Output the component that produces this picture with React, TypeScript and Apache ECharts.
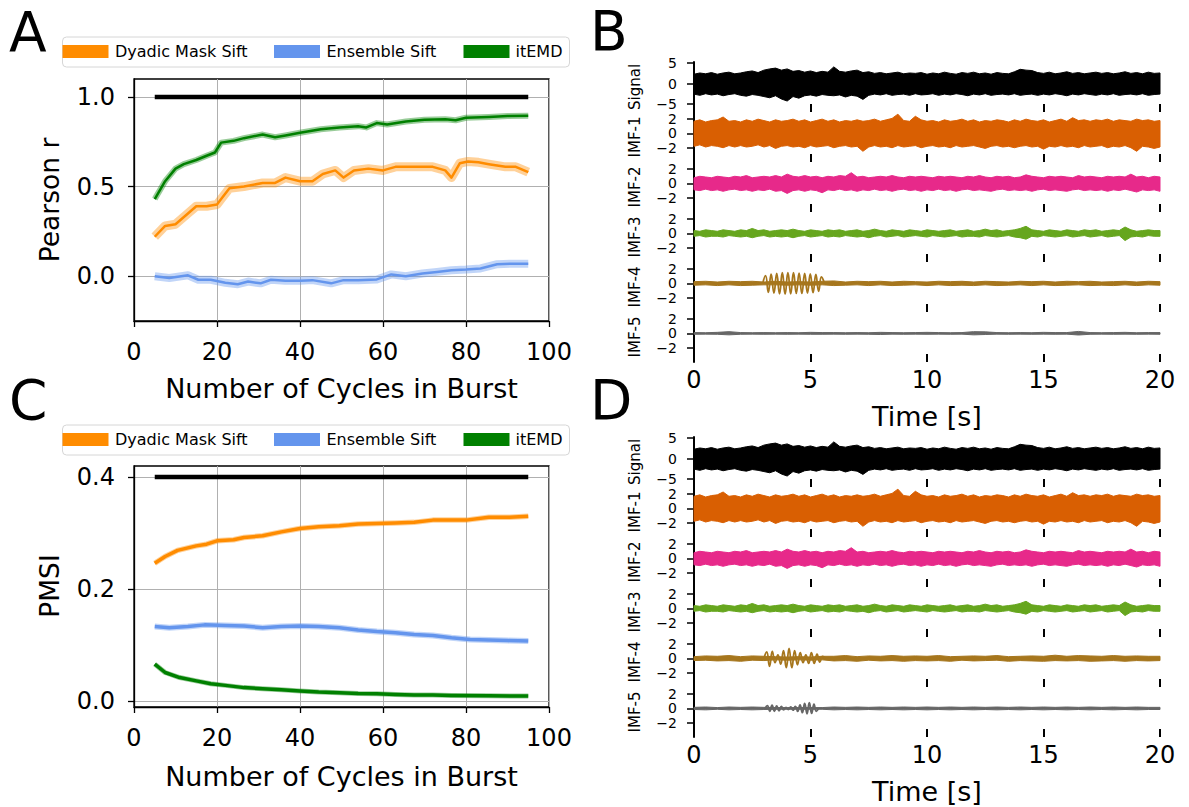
import React, { useEffect, useRef } from "react";
import * as echarts from "echarts";

const FONT = "DejaVu Sans";

// ---------------- Panel A : Pearson r ----------------
const cycleTicks = [0, 20, 40, 60, 80, 100];
const pearsonTicks = [0, 0.5, 1.0];
const refX = [5, 95];
const pearsonRef = [1, 1];
const pearsonDyadicX = [5, 7.5, 10, 13, 15, 17.5, 20, 21, 23, 26.5, 31, 34, 36.5, 40, 43, 45.5, 48.5, 50.5, 53, 56.5, 60, 63, 67.5, 72, 75, 76.5, 78.5, 80.5, 83, 85.5, 89.5, 92, 95];
const pearsonDyadicY = [0.22, 0.28, 0.29, 0.35, 0.39, 0.39, 0.40, 0.43, 0.49, 0.50, 0.52, 0.52, 0.55, 0.53, 0.53, 0.57, 0.59, 0.55, 0.59, 0.60, 0.59, 0.61, 0.61, 0.61, 0.59, 0.55, 0.63, 0.64, 0.635, 0.625, 0.61, 0.61, 0.58];
const pearsonItemdX = [5, 7.5, 10, 12, 15, 17.5, 19.5, 21, 24, 26.5, 31, 34, 36.5, 40, 45, 49.5, 54, 56, 58.5, 61, 65.5, 70, 75, 77.5, 80, 85.5, 90, 95];
const pearsonItemdY = [0.43, 0.53, 0.60, 0.625, 0.648, 0.672, 0.69, 0.745, 0.755, 0.77, 0.79, 0.775, 0.785, 0.80, 0.82, 0.83, 0.837, 0.83, 0.854, 0.846, 0.863, 0.873, 0.876, 0.87, 0.884, 0.888, 0.893, 0.895];
const pearsonEnsembleX = [5, 8.5, 13, 15.5, 18.5, 22, 25, 27.5, 30.5, 33, 36.5, 40, 43, 47.5, 50.5, 54, 58.5, 62, 65.5, 69.5, 73, 76.5, 80, 83.5, 87.5, 91, 95];
const pearsonEnsembleY = [0, -0.01, 0.005, -0.02, -0.02, -0.037, -0.045, -0.03, -0.04, -0.02, -0.026, -0.026, -0.022, -0.04, -0.022, -0.022, -0.018, 0.01, 0, 0.015, 0.024, 0.033, 0.037, 0.043, 0.067, 0.07, 0.07];

// ---------------- Panel C : PMSI ----------------
const pmsiTicks = [0, 0.2, 0.4];
const pmsiRef = [0.4, 0.4];
const pmsiDyadicX = [5, 7.5, 10.5, 15, 17.5, 20, 24, 26.5, 31, 35.5, 40, 44.5, 49.5, 54, 58.5, 63, 67.5, 72, 76.5, 80, 85.5, 90.5, 95];
const pmsiDyadicY = [0.246, 0.258, 0.269, 0.277, 0.28, 0.286, 0.288, 0.292, 0.295, 0.302, 0.308, 0.311, 0.313, 0.316, 0.317, 0.318, 0.319, 0.323, 0.323, 0.323, 0.328, 0.328, 0.330];
const pmsiEnsembleX = [5, 8.5, 13, 17, 22, 26.5, 31, 35.5, 40, 44.5, 49.5, 54, 58.5, 63, 67.5, 72, 76.5, 81, 85.5, 90, 95];
const pmsiEnsembleY = [0.133, 0.131, 0.133, 0.136, 0.135, 0.134, 0.131, 0.133, 0.134, 0.133, 0.131, 0.127, 0.124, 0.122, 0.119, 0.117, 0.113, 0.110, 0.109, 0.108, 0.107];
const pmsiItemdX = [5, 7.5, 11, 15, 18.5, 22, 26.5, 31, 35.5, 40, 44.5, 49.5, 54, 58.5, 63, 67.5, 72, 76.5, 85.5, 95];
const pmsiItemdY = [0.066, 0.051, 0.042, 0.036, 0.031, 0.028, 0.024, 0.022, 0.020, 0.018, 0.016, 0.015, 0.0136, 0.013, 0.0118, 0.011, 0.0107, 0.010, 0.0095, 0.0089];

const methodNames = ["Dyadic Mask Sift", "Ensemble Sift", "itEMD"];
const methodColors = ["#ff8c00", "#6495ed", "#008000"];

// ---------------- Panels B / D : traces (envelopes, 0.25 s and 0.5 s steps) ----------------
const timeTicks = [0, 5, 10, 15, 20];
const traceNames = ["Signal", "IMF-1", "IMF-2", "IMF-3", "IMF-4", "IMF-5"];
const traceColors = ["#000000", "#d95f02", "#e7298a", "#66a61e", "#a6761d", "#666666"];

const signalUpper = [
  2.3, 2.6, 2.4, 2.7, 2.3, 2.6, 2.8, 2.4, 2.6, 2.9, 3.1, 2.7, 3.3, 3.6, 3.8, 3.3,
  3.6, 3.0, 3.2, 2.8, 3.1, 2.7, 3.0, 2.8, 4.1, 3.0, 2.8, 3.1, 3.3, 2.7, 2.9, 2.5,
  2.7, 2.4, 2.6, 2.8, 2.4, 2.6, 2.5, 2.7, 2.3, 2.6, 2.4, 2.8, 2.5, 2.3, 2.7, 2.5,
  2.8, 2.4, 2.6, 2.3, 2.7, 2.5, 2.4, 2.9, 3.5, 3.3, 3.2, 2.7, 2.5, 2.8, 2.4, 2.6,
  2.9, 2.5, 2.7, 2.4, 2.6, 2.8, 2.5, 2.7, 2.4, 2.6, 2.9, 2.5, 2.7, 2.4, 2.8, 2.5, 2.6];
const signalLower = [
  -2.6, -2.9, -2.5, -2.8, -2.6, -3.0, -2.7, -2.5, -2.9, -3.1, -2.7, -2.9, -3.2, -3.5, -3.0, -3.8,
  -4.3, -3.2, -3.6, -3.0, -2.8, -3.1, -2.7, -2.9, -3.0, -2.8, -3.3, -2.9, -3.1, -3.9, -2.9, -2.6,
  -2.8, -2.5, -2.9, -2.7, -2.6, -2.9, -2.5, -2.8, -2.7, -2.5, -2.9, -2.6, -2.8, -2.5, -2.7, -3.0,
  -2.6, -2.8, -2.5, -2.9, -2.7, -2.6, -2.8, -2.5, -2.9, -2.7, -2.6, -2.9, -2.6, -2.8, -2.5, -2.7,
  -3.0, -2.6, -2.8, -2.5, -2.7, -2.9, -2.6, -2.8, -2.5, -2.9, -2.7, -2.6, -2.8, -2.5, -2.9, -2.7, -2.6];
const imf1Upper = [
  1.7, 1.9, 1.6, 1.8, 1.9, 2.3, 1.7, 1.8, 1.6, 1.9, 1.7, 2.0, 1.8, 1.6, 1.9, 1.7,
  1.8, 2.0, 1.7, 1.9, 1.6, 1.8, 2.0, 1.7, 1.9, 1.6, 1.8, 1.7, 1.9, 1.7, 1.8, 2.0,
  1.7, 1.9, 2.1, 2.7, 1.8, 1.7, 2.4, 1.9, 1.7, 1.8, 1.6, 1.9, 1.7, 1.8, 2.0, 1.7,
  1.9, 1.6, 1.8, 1.7, 1.9, 1.8, 1.6, 1.9, 1.7, 2.0, 1.8, 1.7, 1.9, 1.6, 1.8, 2.0,
  1.7, 2.2, 1.8, 1.9, 1.7, 1.9, 1.8, 2.0, 1.7, 1.9, 1.8, 1.7, 2.0, 1.8, 1.9, 1.7, 1.8];
const imf1Lower = [
  -1.8, -1.6, -1.9, -1.7, -1.8, -2.0, -1.7, -1.9, -1.7, -1.9, -1.8, -1.6, -1.9, -1.7, -2.1, -1.8,
  -1.7, -1.9, -1.8, -2.0, -1.7, -1.9, -1.8, -1.7, -2.0, -1.8, -1.7, -1.9, -1.8, -2.5, -1.9, -1.7,
  -1.9, -1.8, -2.0, -1.7, -1.9, -1.8, -1.7, -2.0, -1.8, -1.7, -1.9, -1.8, -2.0, -1.7, -1.9, -1.8,
  -1.7, -1.9, -2.1, -1.8, -1.7, -1.9, -1.8, -2.0, -1.8, -1.7, -1.9, -1.8, -2.2, -1.8, -1.9, -1.7,
  -1.9, -1.8, -2.0, -1.7, -1.9, -1.8, -1.7, -2.0, -1.8, -1.9, -1.7, -2.0, -2.5, -1.8, -1.9, -2.1, -1.9];
const imf2Upper = [
  0.8, 1.0, 0.9, 0.8, 1.0, 0.9, 0.8, 1.0, 0.9, 1.1, 0.8, 0.9, 1.0, 0.9, 1.1, 0.9,
  1.3, 1.0, 0.9, 1.1, 0.9, 1.0, 0.8, 1.0, 0.9, 1.1, 1.0, 1.5, 0.9, 1.0, 0.8, 0.9,
  1.0, 0.9, 1.1, 0.9, 0.8, 1.0, 0.9, 1.0, 0.9, 0.8, 1.0, 0.9, 1.0, 0.9, 0.8, 1.0,
  0.9, 1.1, 0.9, 0.8, 1.0, 0.9, 1.0, 0.8, 0.9, 1.2, 1.0, 0.9, 0.8, 1.0, 0.9, 1.0,
  0.9, 0.8, 1.1, 0.9, 1.0, 0.9, 0.8, 1.0, 0.9, 1.0, 0.9, 1.3, 0.9, 1.0, 0.8, 1.0, 0.9];
const imf2Lower = [
  -0.9, -1.0, -0.8, -1.0, -0.9, -1.1, -0.9, -0.8, -1.0, -0.9, -1.1, -0.9, -1.0, -0.8, -1.1, -1.0,
  -1.4, -1.0, -0.9, -1.1, -0.9, -1.0, -1.3, -0.9, -1.0, -0.8, -1.0, -0.9, -1.1, -0.9, -1.0, -0.8,
  -1.0, -0.9, -1.1, -0.9, -0.8, -1.0, -0.9, -1.1, -0.9, -1.0, -0.8, -1.0, -0.9, -1.1, -0.9, -0.8,
  -1.0, -0.9, -1.0, -1.1, -0.9, -0.8, -1.0, -0.9, -1.0, -0.9, -1.1, -0.9, -0.8, -1.0, -0.9, -1.0,
  -1.1, -0.9, -0.8, -1.0, -0.9, -1.0, -0.9, -1.1, -0.9, -1.0, -0.8, -1.0, -1.2, -0.9, -1.0, -0.9, -1.1];
const imf3Upper = [
  0.4, 0.3, 0.5, 0.4, 0.3, 0.5, 0.4, 0.3, 0.5, 0.4, 0.7, 0.4, 0.5, 0.3, 0.4, 0.5,
  0.4, 0.6, 0.4, 0.3, 0.5, 0.4, 0.3, 0.5, 0.4, 0.5, 0.3, 0.4, 0.5, 0.3, 0.4, 0.6,
  0.4, 0.3, 0.5, 0.4, 0.3, 0.5, 0.4, 0.3, 0.5, 0.4, 0.3, 0.4, 0.5, 0.3, 0.4, 0.5,
  0.3, 0.4, 0.6, 0.4, 0.5, 0.3, 0.4, 0.5, 0.7, 1.0, 0.5, 0.4, 0.3, 0.5, 0.4, 0.3,
  0.5, 0.4, 0.3, 0.5, 0.4, 0.5, 0.3, 0.4, 0.5, 0.4, 0.9, 0.5, 0.3, 0.4, 0.5, 0.4, 0.4];
const imf3Lower = [
  -0.4, -0.3, -0.5, -0.4, -0.4, -0.5, -0.3, -0.4, -0.5, -0.4, -0.6, -0.4, -0.3, -0.5, -0.4, -0.5,
  -0.4, -0.6, -0.4, -0.3, -0.5, -0.4, -0.3, -0.5, -0.4, -0.5, -0.3, -0.4, -0.5, -0.4, -0.6, -0.4,
  -0.3, -0.5, -0.4, -0.3, -0.5, -0.4, -0.3, -0.4, -0.5, -0.3, -0.4, -0.5, -0.4, -0.3, -0.5, -0.4,
  -0.4, -0.5, -0.3, -0.4, -0.5, -0.4, -0.3, -0.5, -0.6, -0.8, -0.4, -0.5, -0.3, -0.4, -0.5, -0.4,
  -0.3, -0.5, -0.4, -0.3, -0.5, -0.4, -0.3, -0.5, -0.4, -0.3, -1.0, -0.5, -0.4, -0.5, -0.3, -0.4, -0.4];

// half-second envelopes for the quiet low-frequency modes
const imf4UpperB = [0.25, 0.3, 0.2, 0.3, 0.25, 0.3, 0.2, 0.3, 0.2, 0.25, 0.2, 0.3, 0.35, 0.2, 0.3, 0.25, 0.3, 0.2, 0.3, 0.25, 0.2, 0.3, 0.25, 0.3, 0.2, 0.3, 0.25, 0.2, 0.3, 0.25, 0.3, 0.2, 0.3, 0.25, 0.3, 0.2, 0.25, 0.3, 0.2, 0.3, 0.25];
const imf4LowerB = [-0.25, -0.2, -0.3, -0.2, -0.3, -0.25, -0.2, -0.2, -0.25, -0.2, -0.25, -0.2, -0.3, -0.25, -0.2, -0.3, -0.2, -0.3, -0.25, -0.2, -0.3, -0.2, -0.3, -0.25, -0.3, -0.2, -0.3, -0.25, -0.2, -0.3, -0.2, -0.3, -0.25, -0.2, -0.3, -0.25, -0.3, -0.2, -0.3, -0.2, -0.25];
const imf5UpperB = [0.12, 0.1, 0.15, 0.25, 0.12, 0.1, 0.12, 0.1, 0.12, 0.1, 0.15, 0.12, 0.12, 0.1, 0.12, 0.1, 0.15, 0.12, 0.1, 0.12, 0.15, 0.12, 0.1, 0.12, 0.25, 0.22, 0.12, 0.1, 0.12, 0.1, 0.15, 0.12, 0.12, 0.28, 0.12, 0.1, 0.12, 0.15, 0.1, 0.12, 0.12];
const imf5LowerB = [-0.12, -0.1, -0.12, -0.2, -0.12, -0.1, -0.12, -0.1, -0.12, -0.1, -0.12, -0.12, -0.1, -0.12, -0.1, -0.12, -0.15, -0.1, -0.12, -0.1, -0.12, -0.1, -0.12, -0.1, -0.2, -0.15, -0.1, -0.12, -0.1, -0.12, -0.1, -0.12, -0.1, -0.22, -0.12, -0.1, -0.12, -0.1, -0.12, -0.1, -0.12];
const imf4UpperD = [0.25, 0.35, 0.3, 0.4, 0.25, 0.35, 0.3, 0.25, 0.2, 0.25, 0.2, 0.3, 0.3, 0.4, 0.25, 0.35, 0.3, 0.4, 0.3, 0.35, 0.3, 0.4, 0.25, 0.3, 0.35, 0.3, 0.4, 0.25, 0.3, 0.35, 0.3, 0.45, 0.3, 0.4, 0.35, 0.3, 0.4, 0.3, 0.35, 0.3, 0.3];
const imf4LowerD = [-0.3, -0.25, -0.35, -0.3, -0.4, -0.25, -0.3, -0.2, -0.25, -0.2, -0.25, -0.2, -0.35, -0.3, -0.4, -0.25, -0.35, -0.3, -0.4, -0.3, -0.35, -0.3, -0.4, -0.25, -0.35, -0.3, -0.25, -0.4, -0.3, -0.35, -0.4, -0.3, -0.35, -0.3, -0.4, -0.35, -0.3, -0.4, -0.3, -0.35, -0.3];
const imf5UpperD = [0.15, 0.2, 0.12, 0.2, 0.15, 0.2, 0.15, 0.12, 0.12, 0.12, 0.12, 0.12, 0.2, 0.15, 0.2, 0.15, 0.2, 0.15, 0.2, 0.15, 0.2, 0.15, 0.2, 0.15, 0.2, 0.15, 0.2, 0.15, 0.2, 0.15, 0.2, 0.15, 0.2, 0.15, 0.2, 0.15, 0.2, 0.15, 0.2, 0.15, 0.15];
const imf5LowerD = [-0.15, -0.2, -0.12, -0.2, -0.15, -0.2, -0.15, -0.12, -0.12, -0.12, -0.12, -0.12, -0.2, -0.15, -0.2, -0.15, -0.2, -0.15, -0.2, -0.15, -0.2, -0.15, -0.2, -0.15, -0.2, -0.15, -0.2, -0.15, -0.2, -0.15, -0.2, -0.15, -0.2, -0.15, -0.2, -0.15, -0.2, -0.15, -0.2, -0.15, -0.15];

// burst oscillations (peaks / troughs)
const burstT_B4 = [2.95, 3.07, 3.19, 3.31, 3.43, 3.55, 3.67, 3.79, 3.91, 4.03, 4.15, 4.27, 4.39, 4.51, 4.63, 4.75, 4.87, 4.99, 5.11, 5.23, 5.35, 5.47, 5.6];
const burstV_B4 = [0, 1.1, -1.25, 1.3, -1.35, 1.4, -1.45, 1.5, -1.5, 1.5, -1.45, 1.5, -1.4, 1.45, -1.4, 1.4, -1.35, 1.35, -1.3, 1.25, -1.1, 0.9, 0];
const burstT_D4 = [3.0, 3.12, 3.24, 3.36, 3.48, 3.6, 3.72, 3.84, 3.96, 4.08, 4.2, 4.32, 4.44, 4.56, 4.68, 4.8, 4.92, 5.04, 5.16, 5.28, 5.4, 5.52, 5.64];
const burstV_D4 = [0, 0.9, -1.1, 1.0, -0.6, 0.5, -0.8, 1.1, -1.3, 1.4, -1.3, 1.1, -0.9, 0.8, -0.6, 0.5, -0.7, 0.8, -0.7, 0.6, -0.5, 0.3, 0];
const burstT_D5 = [3.05, 3.15, 3.25, 3.35, 3.45, 3.55, 3.65, 3.75, 3.85, 3.95, 4.05, 4.15, 4.25, 4.35, 4.45, 4.55, 4.65, 4.75, 4.85, 4.95, 5.05, 5.15, 5.25, 5.35];
const burstV_D5 = [0, 0.4, -0.4, 0.45, -0.4, 0.35, -0.35, 0.3, -0.2, 0.15, -0.15, 0.2, -0.25, 0.3, -0.4, 0.5, -0.6, 0.7, -0.75, 0.8, -0.7, 0.6, -0.4, 0];

const signalLimits = [-7, 5.3];
const imfLimits = [-4, 3];
const signalTicks = [-5, 0, 5];
const imfTicks = [-2, 0, 2];

const minus = (v: number) => (v < 0 ? "\u2212" + Math.abs(v) : String(v));

function timesFor(n: number, step: number) {
  const t: number[] = [];
  for (let i = 0; i < n; i++) t.push(i * step);
  return t;
}

function lineSeries(ai: number, xs: number[], ys: number[], color: string, width: number, opacity = 1, z = 3, smooth: any = false) {
  return {
    type: "line",
    xAxisIndex: ai,
    yAxisIndex: ai,
    data: xs.map((x, i) => [x, ys[i]]),
    symbol: "none",
    showSymbol: false,
    smooth,
    silent: true,
    z,
    lineStyle: { color, width, opacity, cap: "butt", join: "round" },
  };
}

function bandSeries(ai: number, lo: number[], hi: number[], step: number, color: string) {
  const t = timesFor(lo.length, step);
  return {
    type: "custom",
    xAxisIndex: ai,
    yAxisIndex: ai,
    silent: true,
    clip: false,
    z: 2,
    data: [[0, 0]],
    renderItem: (_p: any, api: any) => {
      const pts: number[][] = [];
      for (let i = 0; i < t.length; i++) pts.push(api.coord([t[i], hi[i]]));
      for (let i = t.length - 1; i >= 0; i--) pts.push(api.coord([t[i], lo[i]]));
      return {
        type: "polygon",
        shape: { points: pts },
        style: { fill: color, stroke: color, lineWidth: 1 },
      };
    },
  };
}

function text(x: number, y: number, s: string, size: number, align = "center", rotation = 0) {
  return {
    type: "text",
    x,
    y,
    rotation,
    silent: true,
    style: {
      text: s,
      fill: "#000",
      fontSize: size,
      fontFamily: FONT,
      align,
      verticalAlign: "middle",
      textAlign: align,
      textVerticalAlign: "middle",
    },
  };
}

function legend(top: number) {
  const els: any[] = [
    { type: "rect", shape: { x: 62.5, y: top, width: 507, height: 30, r: 4 }, style: { fill: "#fff", stroke: "#d6d6d6", lineWidth: 1 }, silent: true },
  ];
  const sx = [62.5, 274, 463.5];
  const tx = [115, 326.5, 515.5];
  methodNames.forEach((n, i) => {
    els.push({ type: "rect", shape: { x: sx[i], y: top + 8, width: 46, height: 13 }, style: { fill: methodColors[i] }, silent: true });
    els.push(text(tx[i], top + 14.5, n, 16, "left"));
  });
  return els;
}

function buildOption() {
  const grid: any[] = [];
  const xAxis: any[] = [];
  const yAxis: any[] = [];
  const series: any[] = [];
  const graphic: any[] = [];

  const black = { color: "#000", width: 1.3 };
  const frameAxisX = (gi: number) => ({
    gridIndex: gi, type: "value", min: 0, max: 100, interval: 20,
    axisLine: { show: true, onZero: false, lineStyle: black },
    axisTick: { show: true, length: 6, lineStyle: black },
    axisLabel: { fontSize: 24, color: "#000", margin: 19, fontFamily: FONT, showMinLabel: true, showMaxLabel: true, customValues: cycleTicks },
    splitLine: { show: true, lineStyle: { color: "#b0b0b0", width: 1 } },
  });
  const frameAxisY = (gi: number, min: number, max: number, ticks: number[]) => ({
    gridIndex: gi, type: "value", min, max,
    axisLine: { show: true, onZero: false, lineStyle: black },
    axisTick: { show: true, length: 6, lineStyle: black, customValues: ticks },
    axisLabel: { fontSize: 24, color: "#000", margin: 19, fontFamily: FONT, customValues: ticks, formatter: (v: number) => v.toFixed(1) },
    splitLine: { show: true, lineStyle: { color: "#b0b0b0", width: 1 } },
  });

  // Panel A (axis index 0)
  grid.push({ left: 134, top: 79, width: 415, height: 242, show: true, borderColor: "#000", borderWidth: 1.3, backgroundColor: "transparent" });
  xAxis.push(frameAxisX(0));
  yAxis.push(frameAxisY(0, -0.25, 1.1, pearsonTicks));
  series.push(lineSeries(0, pearsonDyadicX, pearsonDyadicY, methodColors[0], 9, 0.4, 3));
  series.push(lineSeries(0, pearsonDyadicX, pearsonDyadicY, methodColors[0], 2.5, 1, 4));
  series.push(lineSeries(0, pearsonEnsembleX, pearsonEnsembleY, methodColors[1], 8, 0.4, 3));
  series.push(lineSeries(0, pearsonEnsembleX, pearsonEnsembleY, methodColors[1], 2.5, 1, 4));
  series.push(lineSeries(0, pearsonItemdX, pearsonItemdY, methodColors[2], 6, 0.4, 3));
  series.push(lineSeries(0, pearsonItemdX, pearsonItemdY, methodColors[2], 2.5, 1, 4));
  series.push(lineSeries(0, refX, pearsonRef, "#000", 4.5, 1, 5));

  // Panel C (axis index 1)
  grid.push({ left: 134, top: 466, width: 415, height: 241, show: true, borderColor: "#000", borderWidth: 1.3, backgroundColor: "transparent" });
  xAxis.push(frameAxisX(1));
  yAxis.push(frameAxisY(1, -0.0106, 0.4196, pmsiTicks));
  series.push(lineSeries(1, pmsiDyadicX, pmsiDyadicY, methodColors[0], 5.5, 0.4, 3));
  series.push(lineSeries(1, pmsiDyadicX, pmsiDyadicY, methodColors[0], 3.5, 1, 4));
  series.push(lineSeries(1, pmsiEnsembleX, pmsiEnsembleY, methodColors[1], 6, 0.4, 3));
  series.push(lineSeries(1, pmsiEnsembleX, pmsiEnsembleY, methodColors[1], 3.5, 1, 4));
  series.push(lineSeries(1, pmsiItemdX, pmsiItemdY, methodColors[2], 5, 0.4, 3));
  series.push(lineSeries(1, pmsiItemdX, pmsiItemdY, methodColors[2], 3.5, 1, 4));
  series.push(lineSeries(1, refX, pmsiRef, "#000", 4.5, 1, 5));

  // Panels B and D : six stacked rows each
  const panels = [
    { top: 62, imf4: [imf4LowerB, imf4UpperB], imf5: [imf5LowerB, imf5UpperB], bursts: [[4, burstT_B4, burstV_B4]] as any[] },
    { top: 437, imf4: [imf4LowerD, imf4UpperD], imf5: [imf5LowerD, imf5UpperD], bursts: [[4, burstT_D4, burstV_D4], [5, burstT_D5, burstV_D5]] as any[] },
  ];
  panels.forEach((p) => {
    const bands = [
      [signalLower, signalUpper, 0.25],
      [imf1Lower, imf1Upper, 0.25],
      [imf2Lower, imf2Upper, 0.25],
      [imf3Lower, imf3Upper, 0.25],
      [p.imf4[0], p.imf4[1], 0.5],
      [p.imf5[0], p.imf5[1], 0.5],
    ] as any[];
    const rowAxis: number[] = [];
    for (let r = 0; r < 6; r++) {
      const ai = grid.length;
      rowAxis.push(ai);
      const top = p.top + 50 * r;
      grid.push({ left: 694, top, width: 466, height: 50 });
      xAxis.push({
        gridIndex: ai, type: "value", min: 0, max: 20, interval: 5,
        axisLine: { show: false, onZero: false },
        axisTick: { show: true, inside: true, length: 8, lineStyle: { color: "#000", width: 2 }, customValues: timeTicks },
        axisLabel: { show: r === 5, fontSize: 24, color: "#000", margin: 6, fontFamily: FONT, showMinLabel: true, showMaxLabel: true, customValues: timeTicks },
        splitLine: { show: false },
      });
      const lim = r === 0 ? signalLimits : imfLimits;
      const ticks = r === 0 ? signalTicks : imfTicks;
      yAxis.push({
        gridIndex: ai, type: "value", min: lim[0], max: lim[1],
        axisLine: { show: true, onZero: false, lineStyle: { color: "#000", width: 2 } },
        axisTick: { show: true, length: 7, lineStyle: { color: "#000", width: 1.5 }, customValues: ticks },
        axisLabel: { fontSize: 14, color: "#000", margin: 17, fontFamily: FONT, customValues: ticks, formatter: minus },
        splitLine: { show: false },
      });
      const b = bands[r];
      series.push(bandSeries(ai, b[0], b[1], b[2], traceColors[r]));
      graphic.push(text(634.5, top + 25, traceNames[r], 15, "center", Math.PI / 2));
    }
    p.bursts.forEach((bb: any) => {
      series.push(lineSeries(rowAxis[bb[0]], bb[1], bb[2], traceColors[bb[0]], 1.8, 1, 4, 0.5));
    });
    graphic.push(text(927, p.top + 300 + 54, "Time [s]", 27));
  });

  // titles, panel letters, legends
  graphic.push(text(341.5, 388, "Number of Cycles in Burst", 27));
  graphic.push(text(341.5, 776, "Number of Cycles in Burst", 27));
  graphic.push(text(49, 200, "Pearson r", 26.5, "center", Math.PI / 2));
  graphic.push(text(49, 586, "PMSI", 26.5, "center", Math.PI / 2));
  graphic.push(text(9, 32, "A", 55, "left"));
  graphic.push(text(590, 31, "B", 55, "left"));
  graphic.push(text(9, 400, "C", 55, "left"));
  graphic.push(text(590, 400, "D", 55, "left"));
  legend(37).forEach((e) => graphic.push(e));
  legend(425).forEach((e) => graphic.push(e));

  return {
    animation: false,
    backgroundColor: "#fff",
    textStyle: { fontFamily: FONT },
    grid,
    xAxis,
    yAxis,
    series,
    graphic: { elements: graphic },
  };
}

export default function App() {
  const ref = useRef<HTMLDivElement>(null);
  useEffect(() => {
    const chart = echarts.init(ref.current!, null, { renderer: "svg", width: 1189, height: 807 });
    chart.setOption(buildOption() as any);
    return () => chart.dispose();
  }, []);
  return (
    <div
      ref={ref}
      style={{ position: "fixed", left: 0, top: 0, width: 1189, height: 807, background: "#fff" }}
    />
  );
}
